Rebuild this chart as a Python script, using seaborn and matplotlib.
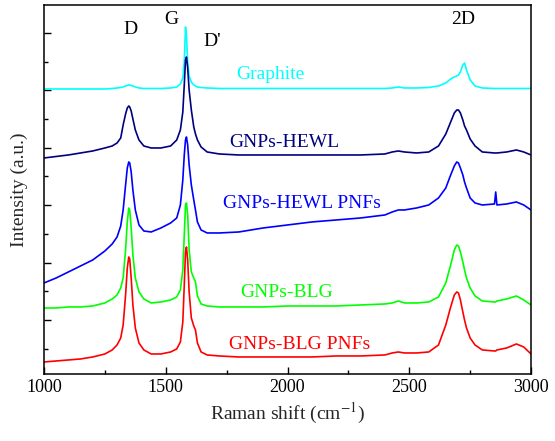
import pandas as pd
import matplotlib.pyplot as plt
import seaborn as sns
from matplotlib.ticker import MultipleLocator

# Raman shift grid (cm-1), shared by all spectra
shift = [1000, 1050, 1100, 1150, 1200, 1250, 1280, 1300, 1315, 1325, 1335,
         1342, 1348, 1352, 1358, 1365, 1375, 1390, 1410, 1440, 1480, 1520,
         1545, 1560, 1570, 1576, 1581, 1585, 1590, 1596, 1605, 1615, 1622,
         1630, 1645, 1670, 1720, 1800, 1900, 2000, 2100, 2200, 2300, 2400,
         2430, 2455, 2480, 2530, 2580, 2620, 2650, 2670, 2685, 2695, 2702,
         2710, 2720, 2727, 2735, 2750, 2770, 2800, 2850, 2855, 2860, 2900,
         2940, 2970, 3000]

# stacked intensities (a.u., already offset)
graphite = [231, 231, 231, 231, 231, 231, 231.5, 232, 232.5, 233, 234,
            234.5, 235, 235, 234.5, 234, 233, 232, 231.5, 231.5, 231.5, 232,
            233, 236, 242, 258, 293, 284, 258, 244, 238, 235, 234,
            233, 232.5, 232, 231.5, 231.5, 231.5, 231.5, 231.5, 231.5, 231.5, 231.5,
            232, 233, 232, 232, 232.5, 234, 237, 241, 243, 244, 245,
            248, 255, 257, 250, 240, 234, 232, 231.5, 231.5, 231.5, 231.5,
            231.5, 231.5, 231.5]
hewl = [162, 163.5, 165, 167, 169, 172, 174, 177, 182, 195, 206,
        212, 214, 213, 209, 201, 190, 180, 174, 172, 172, 174,
        180, 190, 208, 235, 260, 263, 252, 230, 210, 193, 186,
        180, 173, 168, 166, 165, 165, 165, 165, 165, 165, 166,
        168, 169, 168, 167, 168, 174, 186, 198, 207, 210, 210,
        207, 200, 194, 190, 181, 174, 168, 167, 167, 167, 168,
        170, 168, 165]
hewl_pnfs = [37, 42, 48, 54, 60, 69, 76, 83, 94, 110, 135,
             152, 158, 157, 148, 130, 110, 95, 89, 88, 92, 97,
             102, 115, 140, 165, 180, 183, 175, 155, 135, 120, 110,
             98, 90, 87, 87, 88, 92, 95, 98, 100, 102, 105,
             108, 110, 110, 112, 115, 122, 132, 145, 154, 158, 157,
             152, 145, 138, 132, 122, 117, 115, 116, 128, 115, 116,
             118, 115, 110]
blg = [12, 12, 13, 13, 14, 17, 21, 25, 32, 42, 70,
       98, 112, 110, 92, 65, 42, 28, 21, 17, 18, 20,
       23, 30, 50, 85, 115, 117, 105, 70, 48, 42, 38,
       24, 16, 14, 13, 13, 13, 14, 14, 14, 15, 16,
       17, 19, 17, 17, 18, 23, 37, 55, 70, 75, 74,
       68, 58, 50, 42, 32, 24, 19, 18, 18, 19, 21,
       24, 20, 15]
blg_pnfs = [-42, -41, -40, -39, -37, -34, -30, -25, -18, -5, 25,
            52, 63, 61, 42, 15, -8, -23, -30, -34, -34, -32,
            -29, -22, -2, 35, 68, 73, 60, 28, 2, -6, -10,
            -23, -32, -35, -36, -37, -37, -37, -37, -36, -36, -35,
            -33, -32, -33, -33, -32, -25, -5, 13, 25, 28, 27,
            20, 8, 0, -8, -18, -25, -30, -31, -31, -30, -28,
            -24, -27, -34]

samples = ['Graphite', 'GNPs-HEWL', 'GNPs-HEWL PNFs', 'GNPs-BLG', 'GNPs-BLG PNFs']
colors = ['#00FFFF', '#000080', '#0000FF', '#00FF00', '#FF0000']
label_x = [1928, 1986, 2060, 1998, 2051]
label_y = [245, 177, 116, 27, -25]

spectra = pd.concat([pd.DataFrame({'shift': shift, 'intensity': vals, 'sample': name})
                     for name, vals in zip(samples,
                                           [graphite, hewl, hewl_pnfs, blg, blg_pnfs])])

sns.set_style('ticks')
plt.rcParams['font.family'] = ['Liberation Serif', 'DejaVu Serif']
plt.rcParams['mathtext.fontset'] = 'stix'

fig = plt.figure(figsize=(5.55, 4.41), dpi=100)
ax = fig.add_axes([0.0793, 0.152, 0.8775, 0.8367])
sns.lineplot(data=spectra, x='shift', y='intensity', hue='sample',
             palette=dict(zip(samples, colors)), estimator=None,
             linewidth=1.2, legend=False, ax=ax)

for name, c, tx, ty in zip(samples, colors, label_x, label_y):
    ax.text(tx, ty, name, color=c, fontsize=14, ha='center', va='center')

# band labels
for txt, tx, ty in [('D', 1357, 290), ('G', 1522, 300), ("D'", 1690, 278), ('2D', 2721, 300)]:
    ax.text(tx, ty, txt, color='black', fontsize=14, ha='center', va='center')

ax.set_xlim(1000, 3000)
ax.set_ylim(-54, 315)
ax.xaxis.set_major_locator(MultipleLocator(500))
ax.xaxis.set_minor_locator(MultipleLocator(250))
ax.yaxis.set_major_locator(MultipleLocator(57.4))
ax.yaxis.set_minor_locator(MultipleLocator(28.7))
ax.tick_params(which='both', direction='in', top=False, right=False,
               width=1.0, labelsize=13, colors='black')
ax.tick_params(which='major', length=5)
ax.tick_params(which='minor', length=3)
ax.set_yticklabels([])
for s in ax.spines.values():
    s.set_linewidth(1.1)
    s.set_color('black')

ax.set_xlabel(r'Raman shift (cm$^{-1}$)', fontsize=14, labelpad=4)
ax.set_ylabel('Intensity (a.u.)', fontsize=14, labelpad=8)

fig.savefig('out.png', dpi=100)
